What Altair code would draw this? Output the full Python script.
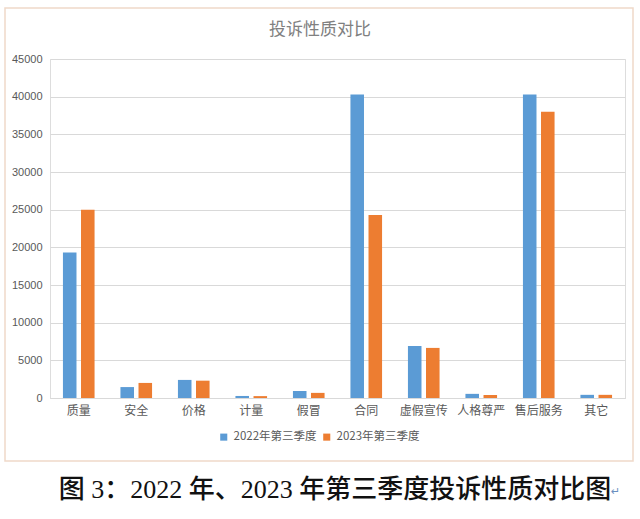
import altair as alt
import pandas as pd

categories = ["质量", "安全", "价格", "计量", "假冒", "合同", "虚假宣传", "人格尊严", "售后服务", "其它"]
values_2022 = [19300, 1450, 2400, 270, 930, 40300, 6900, 550, 40300, 420]
values_2023 = [25000, 2000, 2300, 250, 680, 24300, 6650, 400, 38000, 420]
series = ["2022年第三季度", "2023年第三季度"]
colors = ["#5B9BD5", "#ED7D31"]
y_ticks = list(range(0, 45001, 5000))
title_text = "投诉性质对比"
caption_text = "图 3：2022 年、2023 年第三季度投诉性质对比图"

rows = []
for c, a, b in zip(categories, values_2022, values_2023):
    rows.append({"cat": c, "series": series[0], "value": a})
    rows.append({"cat": c, "series": series[1], "value": b})
df = pd.DataFrame(rows)

W, H = 575, 339

bars = alt.Chart(df).mark_bar().encode(
    x=alt.X("cat:N", sort=categories, title=None,
            scale=alt.Scale(paddingInner=0.45, paddingOuter=0.225),
            axis=alt.Axis(labelAngle=0, labelFont="Noto Sans CJK SC", labelFontSize=12,
                          labelColor="#595959", labelPadding=7, ticks=False,
                          domainColor="#d9d9d9", grid=False)),
    xOffset=alt.XOffset("series:N", sort=series, scale=alt.Scale(paddingInner=0.25)),
    y=alt.Y("value:Q", title=None,
            scale=alt.Scale(domain=[0, 45000], nice=False),
            axis=alt.Axis(values=y_ticks, format="d", labelFont="Liberation Sans",
                          labelFontSize=11, labelColor="#595959", labelPadding=8,
                          ticks=False, domain=False, gridColor="#d9d9d9")),
    color=alt.Color("series:N", sort=series,
                    scale=alt.Scale(domain=series, range=colors),
                    legend=alt.Legend(title=None, orient="none", direction="horizontal",
                                      legendX=168, legendY=372, symbolType="square",
                                      symbolSize=50, labelFont="Noto Sans CJK SC",
                                      labelFontSize=11.5, labelColor="#595959",
                                      columnPadding=4, symbolStrokeWidth=0)),
)

border = alt.Chart(pd.DataFrame({"k": [0]})).mark_rect(
    fill=None, stroke="#f0d9c9", strokeWidth=1.5, clip=False
).encode(x=alt.value(-45), x2=alt.value(583), y=alt.value(-51), y2=alt.value(402))

title = alt.Chart(pd.DataFrame({"t": [title_text]})).mark_text(
    font="Noto Sans CJK SC", fontSize=17, color="#808080", align="center",
    baseline="middle", clip=False
).encode(text="t:N", x=alt.value(270), y=alt.value(-29))

caption = alt.Chart(pd.DataFrame({"t": [caption_text]})).mark_text(
    font="Liberation Serif, Noto Sans CJK SC", fontSize=26, fontWeight=500,
    color="#111111", align="center", baseline="middle", clip=False
).encode(text="t:N", x=alt.value(285), y=alt.value(431))

mark = alt.Chart(pd.DataFrame({"t": ["↵"]})).mark_text(
    font="DejaVu Sans", fontSize=11, color="#6a8fc0", align="left",
    baseline="middle", clip=False
).encode(text="t:N", x=alt.value(561), y=alt.value(433))

chart = alt.layer(border, title, bars, caption, mark).properties(
    width=W, height=H,
    autosize=alt.AutoSizeParams(type="none"),
    padding={"left": 50, "top": 59, "right": 15, "bottom": 121},
).configure_view(stroke=None).configure(background="white")

chart.save("out.html", embed_options={"renderer": "svg", "actions": False})
